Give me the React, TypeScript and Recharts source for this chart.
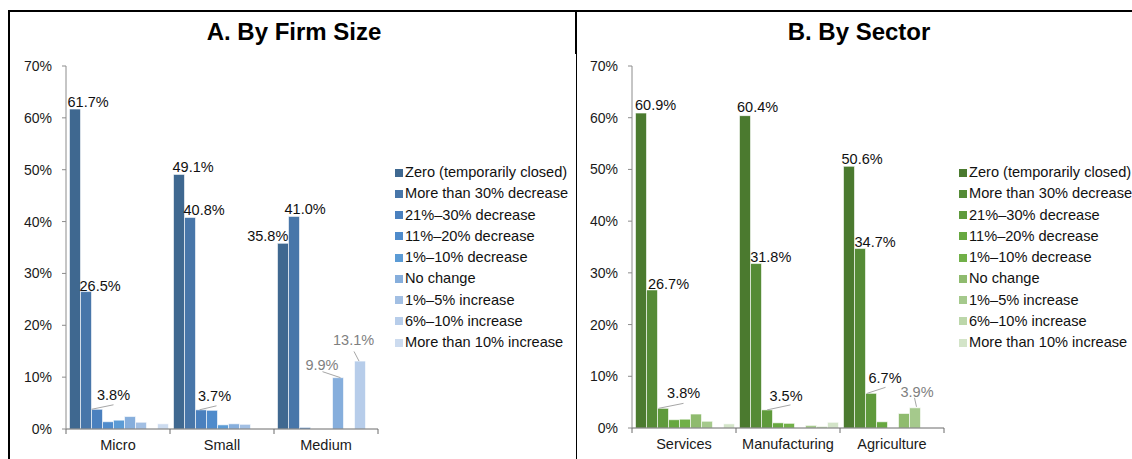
import { BarChart, Bar, XAxis, YAxis, LabelList } from "recharts";

const FONT = '"Liberation Sans", Arial, sans-serif';

const seriesNames = [
  "Zero (temporarily closed)",
  "More than 30% decrease",
  "21%–30% decrease",
  "11%–20% decrease",
  "1%–10% decrease",
  "No change",
  "1%–5% increase",
  "6%–10% increase",
  "More than 10% increase",
];

// panel A: firm size
const sizeCategories = ["Micro", "Small", "Medium"];
const microValues = [61.7, 26.5, 3.8, 1.4, 1.7, 2.4, 1.3, 0, 1.0];
const smallValues = [49.1, 40.8, 3.7, 3.6, 0.8, 1.0, 0.9, 0, 0];
const mediumValues = [35.8, 41.0, 0.3, 0, 0, 9.9, 0, 13.1, 0];

// panel B: sector
const sectorCategories = ["Services", "Manufacturing", "Agriculture"];
const servicesValues = [60.9, 26.7, 3.8, 1.6, 1.7, 2.7, 1.3, 0, 0.8];
const manufacturingValues = [60.4, 31.8, 3.5, 1.0, 0.9, 0, 0.5, 0.3, 1.1];
const agricultureValues = [50.6, 34.7, 6.7, 1.2, 0, 2.8, 3.9, 0, 0];

const yTicks = [0, 10, 20, 30, 40, 50, 60, 70];

const blues = ["#3f6890", "#4876a9", "#4a80be", "#4f8bcb", "#5b9bd5", "#86aedc", "#a2bfe3", "#b7cdea", "#ccdbef"];
const greens = ["#4b7a2f", "#558b36", "#5f9a3c", "#67a840", "#71b048", "#8fbb6e", "#a5c98c", "#bcd7aa", "#d3e4c8"];

const toRows = (cats: string[], vals: number[][]) =>
  cats.map((name, i) => {
    const row: any = { name };
    vals[i].forEach((v, k) => (row["s" + k] = v));
    return row;
  });

const sizeRows = toRows(sizeCategories, [microValues, smallValues, mediumValues]);
const sectorRows = toRows(sectorCategories, [servicesValues, manufacturingValues, agricultureValues]);

type Place = { dx: number; dy: number; end?: boolean; grey?: boolean; leader?: number[] };

// label placement relative to the bar's top-left corner, key = series-category
const sizePlaces: Record<string, Place> = {
  "0-0": { dx: -2, dy: -2 },
  "1-0": { dx: -1, dy: -1 },
  "2-0": { dx: 5.5, dy: -9.5, leader: [0, 0, 22, -4.5] },
  "0-1": { dx: -1, dy: -2 },
  "1-1": { dx: -1, dy: -2 },
  "2-1": { dx: 2.5, dy: -8.7, leader: [4, 0, 21, -4] },
  "0-2": { dx: 10.8, dy: -2, end: true },
  "1-2": { dx: -4, dy: -2 },
  "5-2": { dx: 6, dy: -8, end: true, grey: true, leader: [-10, -6, 8, 0] },
  "7-2": { dx: -21.5, dy: -15.6, grey: true, leader: [-0.5, -9.6, 4.5, 0] },
};

const sectorPlaces: Record<string, Place> = {
  "0-0": { dx: -0.5, dy: -3 },
  "1-0": { dx: 1.4, dy: -1 },
  "2-0": { dx: 9.6, dy: -10.4, leader: [1, 0, 26, -5] },
  "0-1": { dx: -2.5, dy: -3.5 },
  "1-1": { dx: -0.3, dy: -1.3 },
  "2-1": { dx: 8, dy: -9, leader: [5.6, 0, 29, -5] },
  "0-2": { dx: -2, dy: -2 },
  "1-2": { dx: 0, dy: -1.3 },
  "2-2": { dx: 3, dy: -10.4, leader: [1.6, 0, 20, -6] },
  "6-2": { dx: -9, dy: -11, grey: true, leader: [5, -10, 7, -1] },
};

// category is found from the bar's x, since zero bars may be dropped from the label list
const makeLabel = (places: Record<string, Place>, s: number, x0: number, band: number) => (props: any) => {
  const vb = props.viewBox || {};
  const x = props.x ?? vb.x;
  const y = props.y ?? vb.y;
  const cat = Math.floor((x - x0 + 0.5) / band);
  const p = places[`${s}-${cat}`];
  if (!p || props.value == null) return null;
  const l = p.leader;
  return (
    <g>
      {l && <line x1={x + l[0]} y1={y + l[1]} x2={x + l[2]} y2={y + l[3]} stroke="#a6a6a6" strokeWidth={1} />}
      <text
        x={x + p.dx}
        y={y + p.dy}
        textAnchor={p.end ? "end" : "start"}
        fontSize={14.5}
        fontFamily={FONT}
        fill={p.grey ? "#7f7f7f" : "#111"}
      >
        {Number(props.value).toFixed(1)}%
      </text>
    </g>
  );
};

const CategoryTick = (props: any) => {
  const { x, payload, index, band, axisY } = props;
  return (
    <g>
      {index === 0 && <line x1={x - band / 2} x2={x - band / 2} y1={axisY} y2={axisY + 5} stroke="#6b6b6b" />}
      <line x1={x + band / 2} x2={x + band / 2} y1={axisY} y2={axisY + 5} stroke="#6b6b6b" />
      <text x={x} y={axisY + 21} textAnchor="middle" fontSize={14.5} fontFamily={FONT} fill="#1a1a1a">
        {payload.value}
      </text>
    </g>
  );
};

function Legend({ x, colors }: { x: number; colors: string[] }) {
  return (
    <div style={{ position: "absolute", left: x, top: 162, fontSize: 14.6, color: "#111", whiteSpace: "nowrap" }}>
      {seriesNames.map((n, i) => (
        <div key={n} style={{ height: 21.25, lineHeight: "21.25px", display: "flex", alignItems: "center" }}>
          <span style={{ width: 8, height: 8, background: colors[i], marginRight: 2, display: "inline-block" }} />
          {n}
        </div>
      ))}
    </div>
  );
}

function Panel(props: {
  left: number;
  width: number;
  rows: any[];
  colors: string[];
  places: Record<string, Place>;
  plotLeft: number;
  plotRight: number;
  axisY: number;
}) {
  const { left, width, rows, colors, places, plotLeft, plotRight, axisY } = props;
  const band = (plotRight - plotLeft) / rows.length;
  return (
    <div style={{ position: "absolute", left, top: 0 }}>
      <BarChart
        width={width}
        height={459}
        data={rows}
        margin={{ top: 66, right: width - (plotRight - left), bottom: 0, left: plotLeft - left - 50 }}
        barCategoryGap={3.5}
        barGap={0}
      >
        <XAxis
          dataKey="name"
          height={459 - axisY}
          interval={0}
          tickLine={false}
          axisLine={{ stroke: "#6b6b6b" }}
          tick={<CategoryTick band={band} axisY={axisY} />}
        />
        <YAxis
          width={50}
          domain={[0, 70]}
          ticks={yTicks}
          interval={0}
          tickFormatter={(v: number) => `${v}%`}
          tick={{ fontSize: 14, fill: "#1a1a1a", fontFamily: FONT }}
          tickSize={4}
          tickMargin={10}
          axisLine={{ stroke: "#8c8c8c" }}
          tickLine={{ stroke: "#8c8c8c" }}
        />
        {seriesNames.map((n, s) => (
          <Bar key={n} dataKey={"s" + s} name={n} fill={colors[s]} stroke="#ffffff" strokeWidth={0.6} isAnimationActive={false}>
            <LabelList dataKey={"s" + s} content={makeLabel(places, s, plotLeft - left, band)} />
          </Bar>
        ))}
      </BarChart>
    </div>
  );
}

export default function App() {
  const line = (style: any) => <div style={{ position: "absolute", background: "#000", ...style }} />;
  return (
    <div
      style={{
        position: "absolute",
        left: 0,
        top: 0,
        width: 1132,
        height: 459,
        overflow: "hidden",
        background: "#fff",
        fontFamily: FONT,
      }}
    >
      {line({ left: 8, top: 10, right: 0, height: 2 })}
      {line({ left: 8, top: 10, width: 2, bottom: 0 })}
      {line({ left: 575, top: 10, width: 2, height: 44 })}
      {line({ left: 576, top: 54, width: 1, bottom: 0 })}
      <div style={{ position: "absolute", left: 10, width: 566, top: 16, textAlign: "center", fontSize: 24, fontWeight: "bold", lineHeight: "32px" }}>
        <span style={{ position: "relative", left: 1 }}>A. By Firm Size</span>
      </div>
      <div style={{ position: "absolute", left: 577, width: 564, top: 16, textAlign: "center", fontSize: 24, fontWeight: "bold", lineHeight: "32px" }}>
        B. By Sector
      </div>
      <Panel left={10} width={566} rows={sizeRows} colors={blues} places={sizePlaces} plotLeft={66} plotRight={378} axisY={429} />
      <Panel left={577} width={555} rows={sectorRows} colors={greens} places={sectorPlaces} plotLeft={632} plotRight={944} axisY={428} />
      <Legend x={395} colors={blues} />
      <Legend x={959} colors={greens} />
    </div>
  );
}
